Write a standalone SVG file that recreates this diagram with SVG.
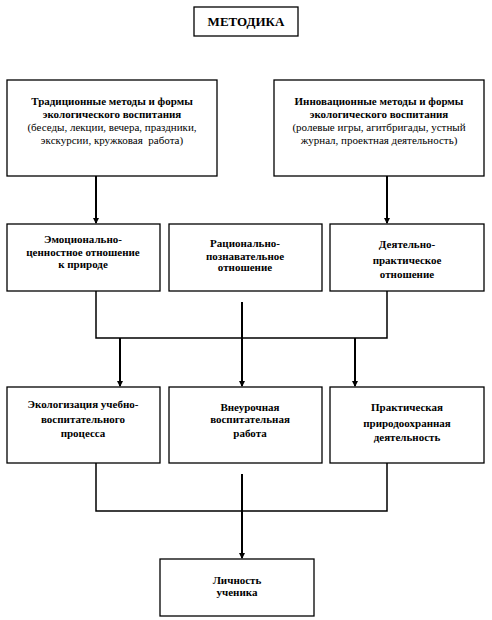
<svg xmlns="http://www.w3.org/2000/svg" width="492" height="620" viewBox="0 0 492 620">
<style>
.box{fill:#fff;stroke:#000;stroke-width:1.3}
.t{font-family:"Liberation Serif","Times New Roman",serif;font-size:11px;text-anchor:middle;fill:#000}
.b{font-weight:bold}
.c{fill:none;stroke:#000;stroke-width:2}
.h{fill:none;stroke:#000;stroke-width:1.5}
</style>
<defs>
<marker id="ar" markerWidth="6" markerHeight="6" refX="5" refY="3" orient="auto" markerUnits="userSpaceOnUse">
<path d="M0,0 L6,3 L0,6 Z" fill="#000"/>
</marker>
</defs>
<rect width="492" height="620" fill="#fff"/>
<g id="connectors">
<line class="c" x1="96" y1="176" x2="96" y2="223" marker-end="url(#ar)"/>
<line class="c" x1="387" y1="176" x2="387" y2="223" marker-end="url(#ar)"/>
<polyline class="h" points="96,291 96,338 387,338 387,291"/>
<line class="c" x1="242" y1="302" x2="242" y2="386" marker-end="url(#ar)"/>
<line class="c" x1="120" y1="338" x2="120" y2="386" marker-end="url(#ar)"/>
<line class="c" x1="355" y1="338" x2="355" y2="386" marker-end="url(#ar)"/>
<polyline class="h" points="96,463 96,511 387,511 387,463"/>
<line class="c" x1="242" y1="474" x2="242" y2="558" marker-end="url(#ar)"/>
</g>
<g id="metodika">
<rect class="box" x="194" y="7" width="104" height="29"/>
<text class="t b" x="246" y="26" style="font-size:13px">МЕТОДИКА</text>
</g>
<g id="trad">
<rect class="box" x="7" y="80" width="210" height="96"/>
<text class="t b" x="112" y="105">Традиционные методы и формы</text>
<text class="t b" x="112" y="118">экологического воспитания</text>
<text class="t" x="112" y="131">(беседы, лекции, вечера, праздники,</text>
<text class="t" x="112" y="144" xml:space="preserve">экскурсии, кружковая  работа)</text>
</g>
<g id="innov">
<rect class="box" x="274" y="80" width="210" height="96"/>
<text class="t b" x="379" y="105">Инновационные методы и формы</text>
<text class="t b" x="379" y="118">экологического воспитания</text>
<text class="t" x="379" y="131">(ролевые игры, агитбригады, устный</text>
<text class="t" x="379" y="144">журнал, проектная деятельность)</text>
</g>
<g id="emo">
<rect class="box" x="7" y="224" width="153" height="67"/>
<text class="t b" x="83" y="243">Эмоционально-</text>
<text class="t b" x="83" y="256">ценностное отношение</text>
<text class="t b" x="83" y="268">к природе</text>
</g>
<g id="rac">
<rect class="box" x="169" y="224" width="153" height="67"/>
<text class="t b" x="245" y="247">Рационально-</text>
<text class="t b" x="245" y="260">познавательное</text>
<text class="t b" x="245" y="271">отношение</text>
</g>
<g id="deyat">
<rect class="box" x="330" y="224" width="154" height="67"/>
<text class="t b" x="407" y="248">Деятельно-</text>
<text class="t b" x="407" y="264">практическое</text>
<text class="t b" x="407" y="278">отношение</text>
</g>
<g id="ekol">
<rect class="box" x="7" y="387" width="153" height="76"/>
<text class="t b" x="83" y="408">Экологизация учебно-</text>
<text class="t b" x="83" y="423">воспитательного</text>
<text class="t b" x="83" y="437">процесса</text>
</g>
<g id="vneur">
<rect class="box" x="169" y="387" width="153" height="76"/>
<text class="t b" x="250" y="411">Внеурочная</text>
<text class="t b" x="250" y="423">воспитательная</text>
<text class="t b" x="250" y="437">работа</text>
</g>
<g id="prakt">
<rect class="box" x="330" y="387" width="154" height="76"/>
<text class="t b" x="407" y="411">Практическая</text>
<text class="t b" x="407" y="427">природоохранная</text>
<text class="t b" x="407" y="441">деятельность</text>
</g>
<g id="lichn">
<rect class="box" x="160" y="559" width="154" height="57"/>
<text class="t b" x="237" y="584">Личность</text>
<text class="t b" x="237" y="596">ученика</text>
</g>
</svg>
